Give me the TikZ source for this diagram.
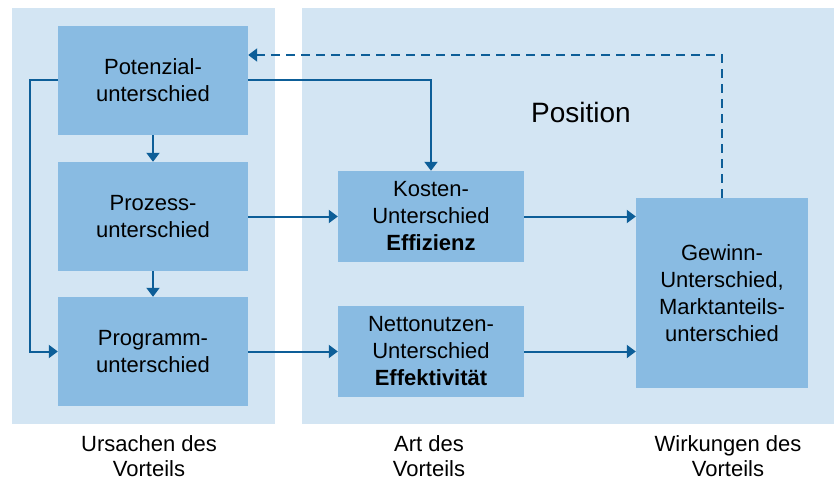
\documentclass[tikz,border=0pt]{standalone}
\usepackage{fontspec}
\setmainfont{Liberation Sans}
\usetikzlibrary{arrows.meta}
\definecolor{panelblue}{HTML}{D3E5F3}
\definecolor{boxblue}{HTML}{89BBE2}
\definecolor{linkblue}{HTML}{0D5E98}
\begin{document}
\begin{tikzpicture}[x=1pt,y=-1pt,
  panel/.style={fill=panelblue,draw=none},
  box/.style={fill=boxblue,draw=none,inner sep=0pt,align=center,
    font=\fontsize{22}{27}\selectfont},
  caption/.style={align=center,inner sep=0pt,font=\fontsize{22}{25}\selectfont},
  link/.style={draw=linkblue,line width=2pt,-{Triangle[length=9pt,width=13pt]}},
  feedback/.style={link,dash pattern=on 9pt off 6pt}]
  \useasboundingbox (0,0) rectangle (834,481);
  % background panels
  \fill[panel] (12,8) rectangle (275,424);
  \fill[panel] (302,8) rectangle (834,424);
  % causes
  \node[box,minimum width=190pt,minimum height=109pt] (pot) at (153,80.5) {Potenzial-\\unterschied};
  \node[box,minimum width=190pt,minimum height=109pt] (pro) at (153,216.5) {Prozess-\\unterschied};
  \node[box,minimum width=190pt,minimum height=109pt] (prg) at (153,351.5) {Programm-\\unterschied};
  % kind of advantage
  \node[box,minimum width=186pt,minimum height=91pt] (kos) at (431,216.5) {Kosten-\\Unterschied\\\textbf{Effizienz}};
  \node[box,minimum width=186pt,minimum height=91pt] (net) at (431,351.5) {Nettonutzen-\\Unterschied\\\textbf{Effektivität}};
  % effects
  \node[box,minimum width=172pt,minimum height=190pt] (gew) at (722,293) {Gewinn-\\Unterschied,\\Marktanteils-\\unterschied};
  \node[font=\fontsize{28}{32}\selectfont] (pos) at (581,112) {Position};
  % column captions
  \node[caption] (c1) at (149,456) {Ursachen des\\Vorteils};
  \node[caption] (c2) at (429,456) {Art des\\Vorteils};
  \node[caption] (c3) at (728,456) {Wirkungen des\\Vorteils};
  % connectors
  \draw[link] (pot) -- (pro);
  \draw[link] (pro) -- (prg);
  \draw[link] (pot.west) -- ++(-28,0) |- (prg.west);
  \draw[link] (pot.east) -| (kos.north);
  \draw[link] (pro.east) -- (kos.west);
  \draw[link] (prg.east) -- (net.west);
  \draw[link] (kos.east) -- (kos.east -| gew.west);
  \draw[link] (net.east) -- (net.east -| gew.west);
  \coordinate (fbk) at (gew.north |- 0,55);
  \draw[feedback] (gew.north) -- (fbk) -- (fbk -| pot.east);
\end{tikzpicture}
\end{document}
